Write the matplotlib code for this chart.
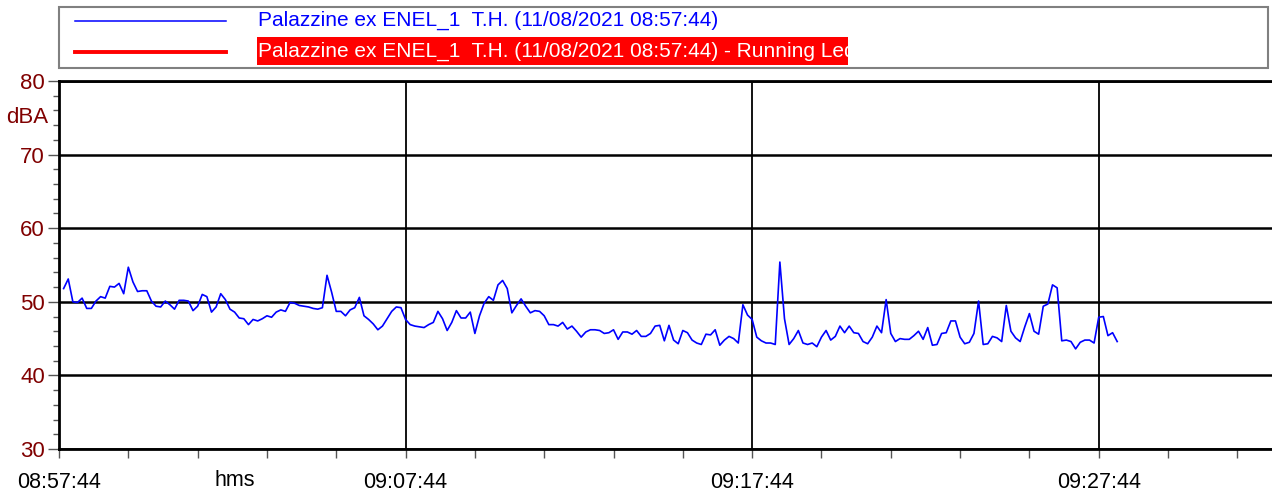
import matplotlib
matplotlib.use("Agg")
import matplotlib.pyplot as plt
import matplotlib.transforms as mtransforms
from matplotlib.patches import Rectangle
from matplotlib.lines import Line2D
import numpy as np

# --- data -------------------------------------------------------------------
series_label = "Palazzine ex ENEL_1  T.H. (11/08/2021 08:57:44)"
running_label = "Palazzine ex ENEL_1  T.H. (11/08/2021 08:57:44) - Running Leq"
sample_step_s = 8  # seconds between samples
leq_dba = [
    51.8, 53.1, 50.0, 49.9, 50.5, 49.1, 49.1, 50.1, 50.7, 50.5, 52.1, 52.0, 52.5,
    51.1, 54.7, 52.7, 51.4, 51.5, 51.5, 50.1, 49.4, 49.3, 50.1, 49.6, 49.0, 50.2,
    50.2, 50.1, 48.8, 49.4, 51.0, 50.7, 48.6, 49.3, 51.1, 50.3, 49.0, 48.6,
    47.8, 47.7, 46.9, 47.6, 47.4, 47.7, 48.1, 47.9, 48.6, 48.9, 48.7, 49.9, 49.8,
    49.5, 49.4, 49.3, 49.1, 49.0, 49.2, 53.6, 51.3, 48.7, 48.7, 48.1, 48.9, 49.2,
    50.6, 48.1, 47.6, 47.0, 46.2, 46.7, 47.7, 48.7, 49.3, 49.2, 47.6, 46.9,
    46.7, 46.6, 46.5, 46.9, 47.2, 48.7, 47.7, 46.1, 47.2, 48.8, 47.8, 47.8, 48.6,
    45.7, 48.1, 49.8, 50.7, 50.2, 52.3, 52.9, 51.8, 48.5, 49.5, 50.4, 49.4, 48.5,
    48.8, 48.7, 48.1, 46.9, 46.9, 46.7, 47.2, 46.3, 46.7, 46.0, 45.2, 45.9,
    46.2, 46.2, 46.1, 45.7, 45.8, 46.2, 44.9, 45.9, 45.9, 45.6, 46.1, 45.3, 45.3,
    45.7, 46.7, 46.8, 44.7, 46.8, 44.8, 44.3, 46.1, 45.8, 44.8, 44.4, 44.2, 45.6,
    45.5, 46.2, 44.1, 44.8, 45.3, 45.0, 44.4, 49.6, 48.2, 47.6, 45.2, 44.7,
    44.4, 44.4, 44.2, 55.4, 47.7, 44.2, 45.0, 46.1, 44.4, 44.2, 44.4, 43.9, 45.2,
    46.1, 44.8, 45.3, 46.7, 45.8, 46.7, 45.8, 45.7, 44.6, 44.3, 45.2, 46.7, 45.8,
    50.3, 45.7, 44.6, 45.0, 44.9, 44.9, 45.4, 46.0, 44.9, 46.5, 44.1,
    44.2, 45.7, 45.8, 47.4, 47.4, 45.2, 44.3, 44.5, 45.7, 50.1, 44.2, 44.3, 45.3,
    45.1, 44.6, 49.5, 46.0, 45.1, 44.6, 46.6, 48.4, 46.0, 45.6, 49.4, 49.7, 52.3,
    51.9, 44.7, 44.8, 44.6, 43.6, 44.5, 44.8, 44.8, 44.4, 47.9, 48.0, 45.4, 45.8,
    44.6,
]
xtick_minutes = [0, 10, 20, 30]
xtick_labels = ["08:57:44", "09:07:44", "09:17:44", "09:27:44"]
ytick_values = [30, 40, 50, 60, 70, 80]

# --- style ------------------------------------------------------------------
FONT = ["Liberation Sans Narrow", "Liberation Sans", "DejaVu Sans"]
plt.rcParams["font.family"] = FONT
AXIS_RED = "#800000"
TICK_GREY = "#555555"

fig = plt.figure(figsize=(12.72, 4.95), dpi=100)
ax = fig.add_axes([59 / 1272, 46 / 495, 1 - 59 / 1272, 368 / 495])

t_min = (np.arange(len(leq_dba)) + 1) * sample_step_s / 60.0
ax.plot(t_min, leq_dba, color="#0000ff", lw=1.2, zorder=3)

ax.set_xlim(0, 35)
ax.set_ylim(30, 80)

ax.set_xticks(xtick_minutes)
ax.set_xticklabels(xtick_labels)
ax.set_xticks(np.arange(0, 35, 2), minor=True)
ax.set_yticks(ytick_values)
ax.set_yticks(np.arange(30, 81, 2), minor=True)

ax.grid(axis="y", which="major", color="black", lw=1.8, zorder=1)
ax.grid(axis="x", which="major", color="black", lw=1.3, zorder=1)

ax.tick_params(axis="x", which="both", direction="out", length=6.5, width=1,
               color=TICK_GREY, labelsize=15.5, pad=10, labelcolor="black")
ax.tick_params(axis="y", which="major", direction="out", length=8, width=1,
               color=TICK_GREY, labelsize=16, pad=2, labelcolor=AXIS_RED)
ax.tick_params(axis="y", which="minor", direction="out", length=4.5, width=1,
               color=TICK_GREY)

for side in ("left", "bottom", "top"):
    ax.spines[side].set_color("black")
    ax.spines[side].set_linewidth(2)
ax.spines["right"].set_visible(False)

# unit labels
ax.text(-11 / 1213, 75, "dBA", transform=mtransforms.blended_transform_factory(ax.transAxes, ax.transData),
        ha="right", va="center", fontsize=16, color=AXIS_RED)
ax.text(5.07, 15 / 495, "hms", transform=mtransforms.blended_transform_factory(ax.transData, fig.transFigure),
        ha="center", va="center", fontsize=15.5, color="black")

# legend box drawn in figure pixels
def fx(px):
    return px / 1272

def fy(py):
    return (495 - py) / 495

fig.patches.append(Rectangle((fx(59.5), fy(68)), fx(1268) - fx(59.5), fy(7) - fy(68),
                             transform=fig.transFigure, facecolor="white",
                             edgecolor="#808080", lw=1.5))
fig.lines.append(Line2D([fx(75), fx(226)], [fy(21), fy(21)], transform=fig.transFigure,
                        color="#0000ff", lw=1.1))
fig.lines.append(Line2D([fx(75), fx(226)], [fy(52), fy(52)], transform=fig.transFigure,
                        color="#ff0000", lw=2.8))
fig.text(fx(258), fy(20), series_label, ha="left", va="center", fontsize=15, color="#0000ff")
fig.patches.append(Rectangle((fx(256.5), fy(65)), fx(848) - fx(256.5), fy(37) - fy(65),
                             transform=fig.transFigure, facecolor="#ff0000", edgecolor="none"))
fig.text(fx(258), fy(51), running_label, ha="left", va="center", fontsize=15, color="white")

fig.savefig("out.png", dpi=100)
